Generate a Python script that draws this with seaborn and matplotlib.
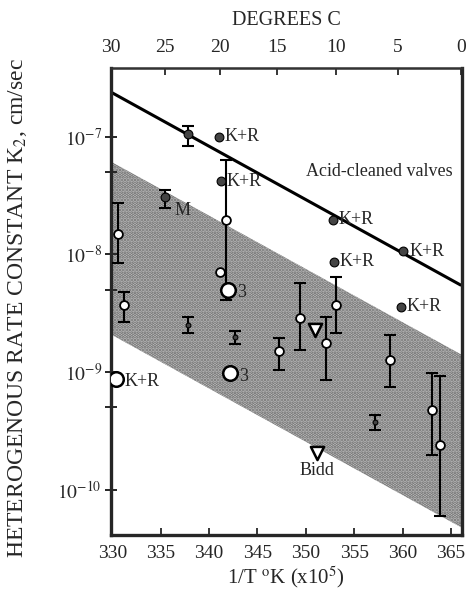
import numpy as np
import pandas as pd
import matplotlib
matplotlib.use('Agg')
import matplotlib.pyplot as plt
import seaborn as sns

# ---- data ----
# acid-cleaned valves fit line (end points)
line_x = [330.0, 366.0]
line_k = [2.37e-7, 5.5e-9]

# shaded band (edges at both ends)
band_x = [329.8, 366.2]
band_hi = [6.2e-8, 1.39e-9]
band_lo = [2.1e-9, 4.7e-11]

# dark filled points (K+R)
kr_x = [341.0, 341.2, 352.8, 352.9, 360.1, 359.8]
kr_k = [1.0e-7, 4.2e-8, 1.97e-8, 8.7e-9, 1.06e-8, 3.6e-9]

# dark filled points with error bars
dark_x = [337.8, 335.4]
dark_k = [1.05e-7, 3.1e-8]
dark_lo = [8.3e-8, 2.47e-8]
dark_hi = [1.24e-7, 3.54e-8]

# small open circles with error bars
open_x = [330.55, 331.2, 341.8, 349.35, 353.17, 352.1, 347.23, 358.75, 363.0, 363.87]
open_k = [1.49e-8, 3.7e-9, 1.97e-8, 2.86e-9, 3.71e-9, 1.75e-9, 1.52e-9, 1.27e-9, 4.75e-10, 2.4e-10]
open_lo = [8.5e-9, 2.68e-9, 4.1e-9, 1.54e-9, 2.15e-9, 8.5e-10, 1.04e-9, 7.5e-10, 1.97e-10, 5.9e-11]
open_hi = [2.74e-8, 4.8e-9, 6.37e-8, 5.69e-9, 6.47e-9, 2.95e-9, 1.94e-9, 2.07e-9, 9.75e-10, 9.2e-10]

# small tick-like points with short bars
tick_x = [337.8, 342.7, 357.2]
tick_k = [2.5e-9, 1.97e-9, 3.77e-10]
tick_lo = [2.16e-9, 1.73e-9, 3.2e-10]
tick_hi = [2.94e-9, 2.25e-9, 4.3e-10]

# small open circle without bar
lone_x = [341.1]
lone_k = [7.1e-9]

# large open circles
big_x = [342.0, 342.2, 330.4]
big_k = [5.0e-9, 9.75e-10, 8.7e-10]
big_lbl = ['3', '3', 'K+R']

# open down triangles
tri_x = [351.0, 351.2]
tri_k = [2.27e-9, 2.05e-10]

# ---- style ----
sns.set_style("ticks")
plt.rcParams['font.family'] = ['Liberation Serif', 'DejaVu Serif']
plt.rcParams['mathtext.fontset'] = 'stix'
plt.rcParams['hatch.linewidth'] = 1.8

fig = plt.figure(figsize=(4.75, 5.96), dpi=100)
ax = fig.add_axes([0.2337, 0.1023, 0.7383, 0.7836])

ax.fill_between(band_x, band_lo, band_hi, facecolor='#c4c4c4', hatch='.....',
                edgecolor='#6a6a6a', linewidth=0, zorder=0)

sns.lineplot(x=line_x, y=line_k, color='black', lw=2.2, ax=ax, zorder=2)

def bars(x, k, lo, hi, lw=1.5, cap=4):
    k = np.array(k)
    ax.errorbar(x, k, yerr=[k - np.array(lo), np.array(hi) - k], fmt='none',
                ecolor='black', elinewidth=lw, capsize=cap, capthick=lw, zorder=3)

bars(dark_x, dark_k, dark_lo, dark_hi)
bars(open_x, open_k, open_lo, open_hi)
bars(tick_x, tick_k, tick_lo, tick_hi, cap=4)

sns.scatterplot(x=kr_x, y=kr_k, s=40, color='#444444', edgecolor='black', linewidth=0.8, ax=ax, zorder=4)
sns.scatterplot(x=dark_x, y=dark_k, s=40, color='#444444', edgecolor='black', linewidth=0.8, ax=ax, zorder=4)
sns.scatterplot(x=open_x, y=open_k, s=40, color='white', edgecolor='black', linewidth=1.3, ax=ax, zorder=4)
sns.scatterplot(x=lone_x, y=lone_k, s=40, color='white', edgecolor='black', linewidth=1.3, ax=ax, zorder=4)
sns.scatterplot(x=tick_x, y=tick_k, s=12, color='#444444', edgecolor='black', linewidth=0.8, ax=ax, zorder=4)
sns.scatterplot(x=big_x, y=big_k, s=110, color='white', edgecolor='black', linewidth=1.8, ax=ax, zorder=4)
sns.scatterplot(x=tri_x, y=tri_k, s=90, marker='v', color='white', edgecolor='black', linewidth=1.8, ax=ax, zorder=4)

# point labels
fs = 13
for x, k in zip(kr_x, kr_k):
    ax.annotate('K+R', (x, k), xytext=(4, 0), textcoords='offset points', fontsize=fs, va='center')
for x, k, t in zip(big_x, big_k, big_lbl):
    ax.annotate(t, (x, k), xytext=(6, -2), textcoords='offset points', fontsize=fs, va='center')
ax.annotate('M', (dark_x[1], dark_k[1]), xytext=(7, -10), textcoords='offset points', fontsize=fs, va='center')
ax.annotate('Bidd', (tri_x[1], tri_k[1]), xytext=(0, -13), textcoords='offset points', fontsize=fs,
            ha='center', va='center')
ax.text(365.2, 10**-7.29, 'Acid-cleaned valves', fontsize=fs, ha='right', va='center')

# axes
ax.set_yscale('log')
ax.set_xlim(329.86, 366.12)
ax.set_ylim(4.1e-11, 3.86e-7)
ax.set_xticks(range(330, 366, 5))
ax.set_yticks([1e-10, 1e-9, 1e-8, 1e-7])
ax.set_yticklabels([r'$10^{-10}$', r'$10^{-9}$', r'$10^{-8}$', r'$10^{-7}$'])
ax.set_yticks([5e-10, 5e-9, 5e-8], minor=True)
ax.yaxis.set_minor_formatter(matplotlib.ticker.NullFormatter())
ax.tick_params(axis='y', which='both', direction='inout', length=9, width=1.4, labelsize=14, pad=2)
ax.tick_params(axis='x', which='both', direction='in', length=5, width=1.3, labelsize=14, top=False, pad=7)
ax.set_xlabel(r'1/T $^{\mathrm{o}}$K (x10$^5$)', fontsize=15, labelpad=2)
ax.set_ylabel(r'HETEROGENOUS RATE CONSTANT K$_2$, cm/sec', fontsize=17)
ax.yaxis.set_label_coords(-0.235, 0.485)

for side in ['left', 'right', 'bottom']:
    ax.spines[side].set_linewidth(2.4)
ax.spines['top'].set_linewidth(1.8)
ax.spines['top'].set_color('#333333')

sec = ax.secondary_xaxis('top', functions=(lambda x: 1e5 / x - 273.15, lambda c: 1e5 / (c + 273.15)))
sec.set_xticks([30, 25, 20, 15, 10, 5, 0])
sec.tick_params(direction='in', length=5, width=1.3, labelsize=14, pad=9)
sec.set_xlabel('DEGREES C', fontsize=14.5, labelpad=10)

fig.savefig('out.png', dpi=100)
